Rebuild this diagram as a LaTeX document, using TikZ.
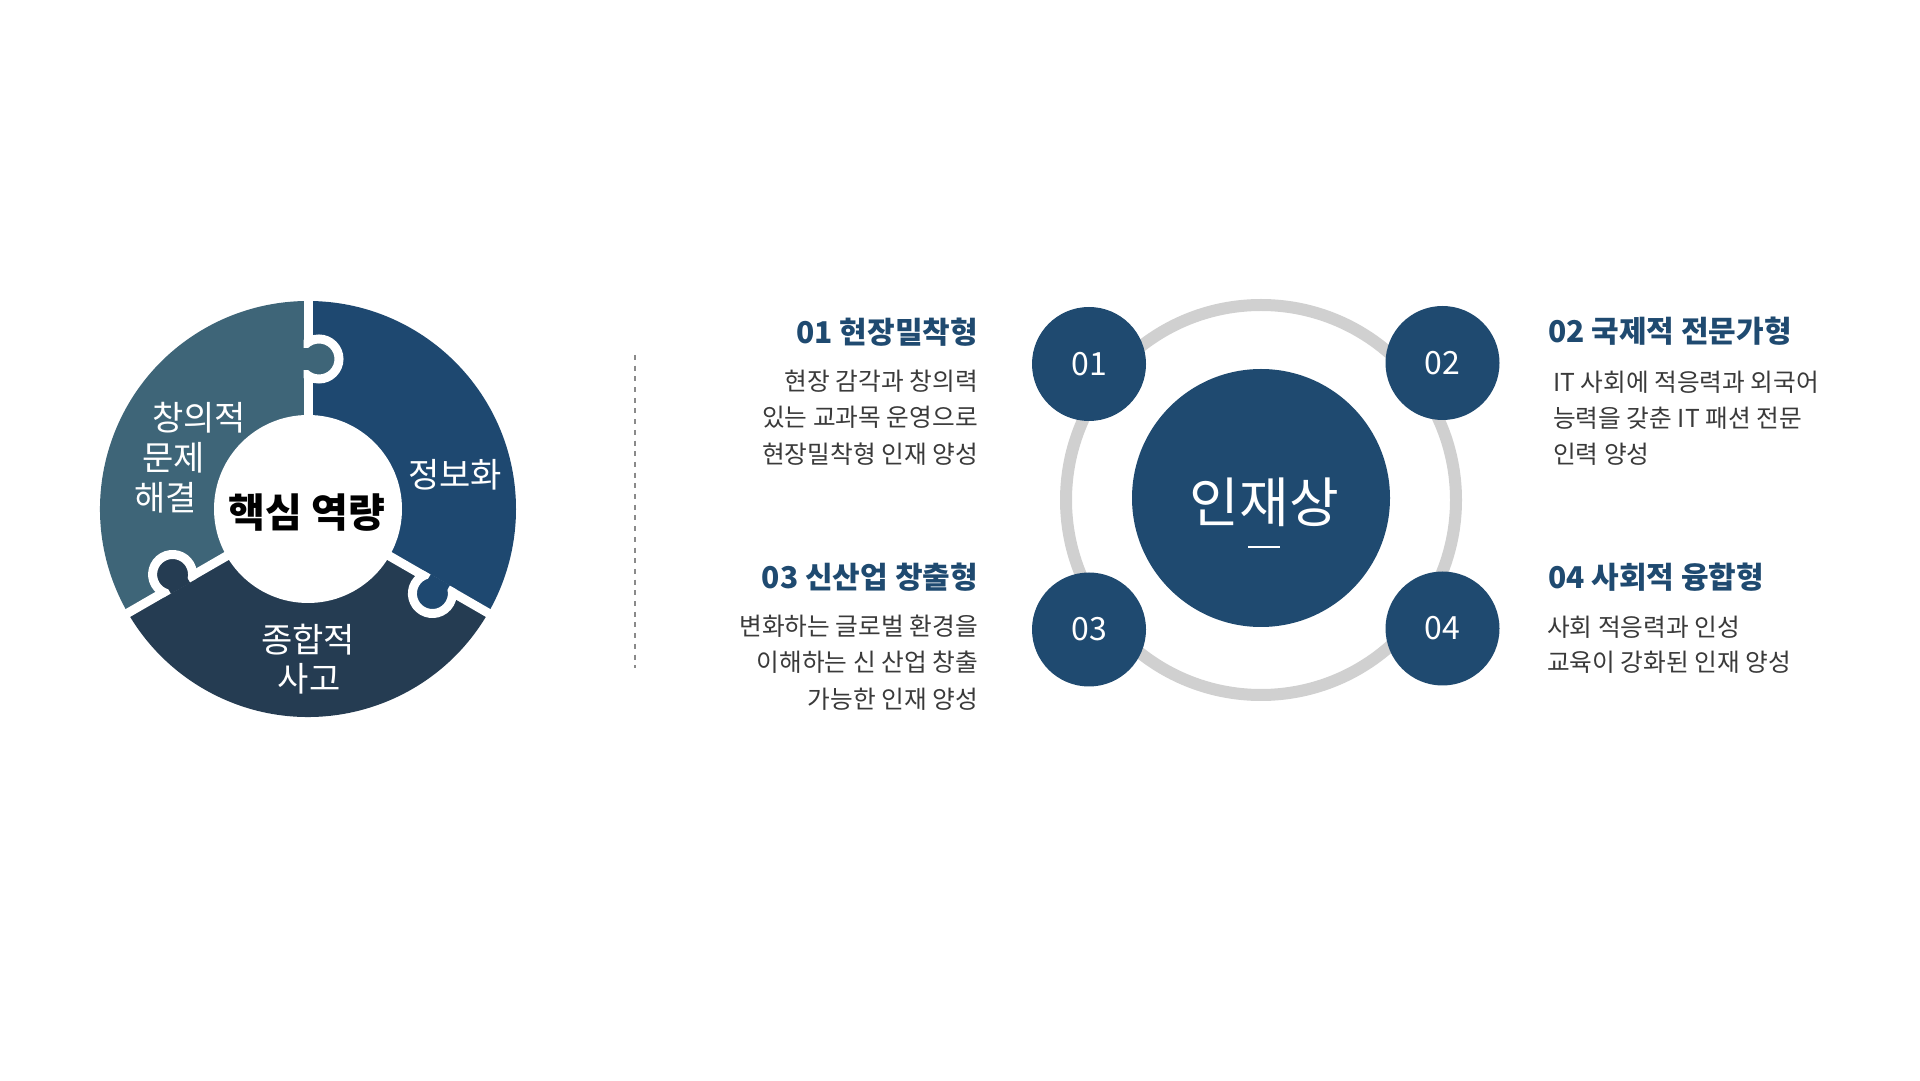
\documentclass[tikz,border=0pt]{standalone}
\usepackage{fontspec}
\setmainfont{Noto Sans CJK KR}
\definecolor{pblue}{HTML}{1E4870}
\definecolor{pnavy}{HTML}{253C52}
\definecolor{pteal}{HTML}{3E6578}
\definecolor{cblue}{HTML}{1F4A70}
\definecolor{ringgray}{HTML}{D0D0D0}
\definecolor{bodygray}{HTML}{3A3A3A}
\definecolor{dashgray}{HTML}{8A8A8A}
\newcommand\puzzleknob[2]{%
\begin{scope}[shift={(308pt,571pt)}, rotate=#1]
  \begin{scope}
    \clip (100pt,4.5pt) rectangle (200pt,-60pt);
    \draw[fill=#2, draw=white, line width=9pt] (150pt,-11pt) circle[radius=20pt];
  \end{scope}
  \fill[#2] (139pt,-5pt) rectangle (161pt,5pt);
\end{scope}}
\tikzset{
  seglbl/.style={text=white, font=\fontsize{34pt}{40pt}\selectfont, inner sep=0pt},
  corelbl/.style={text=black, font=\bfseries\fontsize{40pt}{46pt}\selectfont, inner sep=0pt},
  ttl/.style={text=cblue, font=\bfseries\fontsize{30pt}{36pt}\selectfont, inner sep=0pt},
  bodytxt/.style={text=bodygray, font=\fontsize{24.7pt}{30pt}\selectfont, inner sep=0pt},
  numc/.style={circle, fill=cblue, minimum size=114pt, inner sep=0pt, text=white, font=\fontsize{32pt}{38pt}\selectfont},
  divider/.style={white, line width=9pt},
}
\begin{document}
\begin{tikzpicture}[x=1pt,y=1pt]
\useasboundingbox[fill=white] (0,0) rectangle (1920,1080);
% ---------- puzzle ----------
\coordinate (pc) at (308,571);
\begin{scope}[shift={(308pt,571pt)}]
  \fill[pblue] (0,0) -- (90:208pt) arc[start angle=90, end angle=-30, radius=208pt] -- cycle;
  \fill[pnavy] (0,0) -- (-30:208pt) arc[start angle=-30, end angle=-150, radius=208pt] -- cycle;
  \fill[pteal] (0,0) -- (210:208pt) arc[start angle=210, end angle=90, radius=208pt] -- cycle;
  \coordinate (d1a) at (90:80pt);  \coordinate (d1b) at (90:215pt);
  \coordinate (d2a) at (-30:80pt); \coordinate (d2b) at (-30:215pt);
  \coordinate (d3a) at (210:80pt); \coordinate (d3b) at (210:215pt);
\end{scope}
\draw[divider] (d1a) -- (d1b);
\draw[divider] (d2a) -- (d2b);
\draw[divider] (d3a) -- (d3b);
\puzzleknob{90}{pteal}
\puzzleknob{-30}{pblue}
\puzzleknob{210}{pnavy}
\node[circle, fill=white, minimum size=188pt, inner sep=0pt] (core) at (pc) {};
\node[corelbl] (coretxt) at (307,567) {핵심 역량};
\node[seglbl, anchor=west] (s1a) at (152,662) {창의적};
\node[seglbl, anchor=west] (s1b) at (142,622) {문제};
\node[seglbl, anchor=west] (s1c) at (134,582) {해결};
\node[seglbl] (s2) at (455,605) {정보화};
\node[seglbl] (s3a) at (308,440) {종합적};
\node[seglbl] (s3b) at (309,401) {사고};
% ---------- dashed separator ----------
\coordinate (sepa) at (635,725);
\coordinate (sepb) at (635,412);
\draw[dashgray, line width=2pt, dash pattern=on 5pt off 5.7pt] (sepa) -- (sepb);
% ---------- right diagram ----------
\coordinate (rc) at (1261,580);
\draw[ringgray, line width=12pt] (rc) circle[radius=195pt];
\node[circle, fill=cblue, minimum size=258pt, inner sep=0pt] (hub) at (1261,582) {};
\node[text=white, font=\fontsize{54pt}{60pt}\selectfont, inner sep=0pt] (hubtxt) at (1264.5,577.5) {인재상};
\coordinate (ula) at (1248,533);
\coordinate (ulb) at (1280,533);
\draw[white, line width=2.5pt] (ula) -- (ulb);
\node[numc] (c1) at (1089,716) {01};
\node[numc] (c2) at (1442.5,717) {02};
\node[numc] (c3) at (1089,450.5) {03};
\node[numc] (c4) at (1442.5,451.5) {04};
% ---------- texts left ----------
\node[ttl, anchor=east] (t1) at (978,748) {01 현장밀착형};
\node[bodytxt, anchor=east] (b1a) at (978,699) {현장 감각과 창의력};
\node[bodytxt, anchor=east] (b1b) at (978,662.5) {있는 교과목 운영으로};
\node[bodytxt, anchor=east] (b1c) at (978,626) {현장밀착형 인재 양성};
\node[ttl, anchor=east] (t3) at (978,503) {03 신산업 창출형};
\node[bodytxt, anchor=east] (b3a) at (978,454) {변화하는 글로벌 환경을};
\node[bodytxt, anchor=east] (b3b) at (978,417.5) {이해하는 신 산업 창출};
\node[bodytxt, anchor=east] (b3c) at (978,381) {가능한 인재 양성};
% ---------- texts right ----------
\node[ttl, anchor=west] (t2) at (1548,749) {02 국제적 전문가형};
\node[bodytxt, anchor=west] (b2a) at (1553,698) {IT 사회에 적응력과 외국어};
\node[bodytxt, anchor=west] (b2b) at (1553,662) {능력을 갖춘 IT 패션 전문};
\node[bodytxt, anchor=west] (b2c) at (1553,626) {인력 양성};
\node[ttl, anchor=west] (t4) at (1548,503) {04 사회적 융합형};
\node[bodytxt, anchor=west] (b4a) at (1547,453) {사회 적응력과 인성};
\node[bodytxt, anchor=west] (b4b) at (1547,418) {교육이 강화된 인재 양성};
\end{tikzpicture}
\end{document}
